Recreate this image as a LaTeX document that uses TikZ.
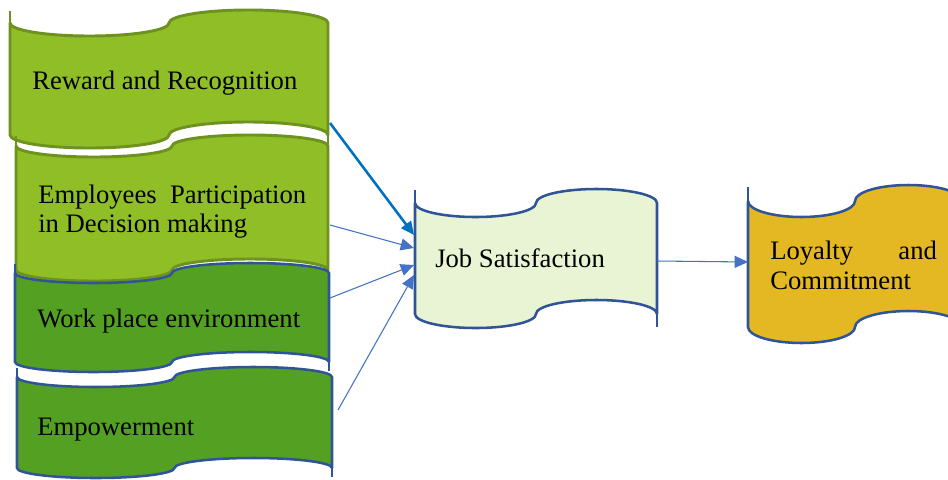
\documentclass[tikz,border=0pt]{standalone}
\usepackage{fontspec}
\setmainfont{Liberation Serif}
\usetikzlibrary{arrows.meta}
\definecolor{lgfill}{RGB}{143,190,38}
\definecolor{lgline}{RGB}{110,146,32}
\definecolor{dgfill}{RGB}{84,160,34}
\definecolor{bline}{RGB}{47,85,151}
\definecolor{jsfill}{RGB}{233,244,212}
\definecolor{lyfill}{RGB}{228,184,34}
\definecolor{arrA}{RGB}{0,112,192}
\definecolor{arrB}{RGB}{68,114,196}
\tikzset{
  lgbox/.style={fill=lgfill,draw=lgline,line width=2.2pt,line join=round},
  dgbox/.style={fill=dgfill,draw=bline,line width=1.9pt,line join=round},
  jsbox/.style={fill=jsfill,draw=bline,line width=1.9pt,line join=round},
  lybox/.style={fill=lyfill,draw=bline,line width=1.9pt,line join=round},
  lbl/.style={anchor=base west,inner sep=0pt,font=\fontsize{20}{24}\selectfont},
  thickarr/.style={draw=arrA,line width=1.9pt,-{Triangle[length=10pt,width=9pt]}},
  thinarr/.style={draw=arrB,line width=0.8pt,-{Triangle[length=10pt,width=9pt]}}
}
% #1 style, #2 x, #3 top, #4 width, #5 height, #6 wave amplitude
\newcommand\tapeshape[6]{%
  \pgfmathsetmacro\Ta{#4/4}%
  \pgfmathsetmacro\Tka{0.5523*\Ta}%
  \pgfmathsetmacro\Tkb{0.5523*#6}%
  \draw[#1] ({#2},{#3+#6})
    .. controls ({#2},{#3+#6+\Tkb}) and ({#2+\Ta-\Tka},{#3+2*#6}) .. ({#2+\Ta},{#3+2*#6})
    .. controls ({#2+\Ta+\Tka},{#3+2*#6}) and ({#2+2*\Ta},{#3+#6+\Tkb}) .. ({#2+2*\Ta},{#3+#6})
    .. controls ({#2+2*\Ta},{#3+#6-\Tkb}) and ({#2+3*\Ta-\Tka},{#3}) .. ({#2+3*\Ta},{#3})
    .. controls ({#2+3*\Ta+\Tka},{#3}) and ({#2+4*\Ta},{#3+#6-\Tkb}) .. ({#2+4*\Ta},{#3+#6})
    -- ({#2+4*\Ta},{#3+#5-#6})
    .. controls ({#2+4*\Ta},{#3+#5-#6-\Tkb}) and ({#2+3*\Ta+\Tka},{#3+#5-2*#6}) .. ({#2+3*\Ta},{#3+#5-2*#6})
    .. controls ({#2+3*\Ta-\Tka},{#3+#5-2*#6}) and ({#2+2*\Ta},{#3+#5-#6-\Tkb}) .. ({#2+2*\Ta},{#3+#5-#6})
    .. controls ({#2+2*\Ta},{#3+#5-#6+\Tkb}) and ({#2+\Ta+\Tka},{#3+#5}) .. ({#2+\Ta},{#3+#5})
    .. controls ({#2+\Ta-\Tka},{#3+#5}) and ({#2},{#3+#5-#6+\Tkb}) .. ({#2},{#3+#5-#6})
    -- cycle;
  \draw[#1,fill=none,line cap=butt] ({#2},{#3+#6}) -- ({#2},{#3+0.1*#6});
  \draw[#1,fill=none,line cap=butt] ({#2+4*\Ta},{#3+#5-#6}) -- ({#2+4*\Ta},{#3+#5-0.1*#6});
}
\begin{document}
\begin{tikzpicture}[x=0.75pt,y=-0.75pt]
\useasboundingbox (0,0) rectangle (948,479);
\clip (0,0) rectangle (948,479);
% left column
\tapeshape{lgbox}{10}{10}{318}{138}{13}
\tapeshape{lgbox}{16}{135}{312}{146}{11}
\tapeshape{dgbox}{15}{263}{314}{109}{10}
\tapeshape{dgbox}{17}{367}{315}{111}{10}
% centre and right
\tapeshape{jsbox}{415}{189}{242}{139}{14}
\tapeshape{lybox}{748}{185}{214}{158}{16}
% texts
\node[lbl] (t1) at (32,89) {Reward and Recognition};
\node[lbl] (t2a) at (38,203) {\makebox[201pt][s]{Employees Participation}};
\node[lbl] (t2b) at (38,232) {in Decision making};
\node[lbl] (t3) at (37,327) {Work place environment};
\node[lbl] (t4) at (37,435) {Empowerment};
\node[lbl] (t5) at (435,267) {Job Satisfaction};
\node[lbl] (t6a) at (770,259) {\makebox[125pt][s]{Loyalty and}};
\node[lbl] (t6b) at (770,289) {Commitment};
% connector end points
\coordinate (rwOut) at (330,123);
\coordinate (epOut) at (330,225);
\coordinate (wpOut) at (330,298);
\coordinate (emOut) at (338,410);
\coordinate (jsIn1) at (414,235);
\coordinate (jsIn2) at (414,248);
\coordinate (jsIn3) at (414,265);
\coordinate (jsIn4) at (414,275);
\coordinate (jsOut) at (657,261);
\coordinate (lyIn) at (748,262);
\draw[thickarr] (rwOut) -- (jsIn1);
\draw[thinarr] (epOut) -- (jsIn2);
\draw[thinarr] (wpOut) -- (jsIn3);
\draw[thinarr] (emOut) -- (jsIn4);
\draw[thinarr] (jsOut) -- (lyIn);
\end{tikzpicture}
\end{document}
